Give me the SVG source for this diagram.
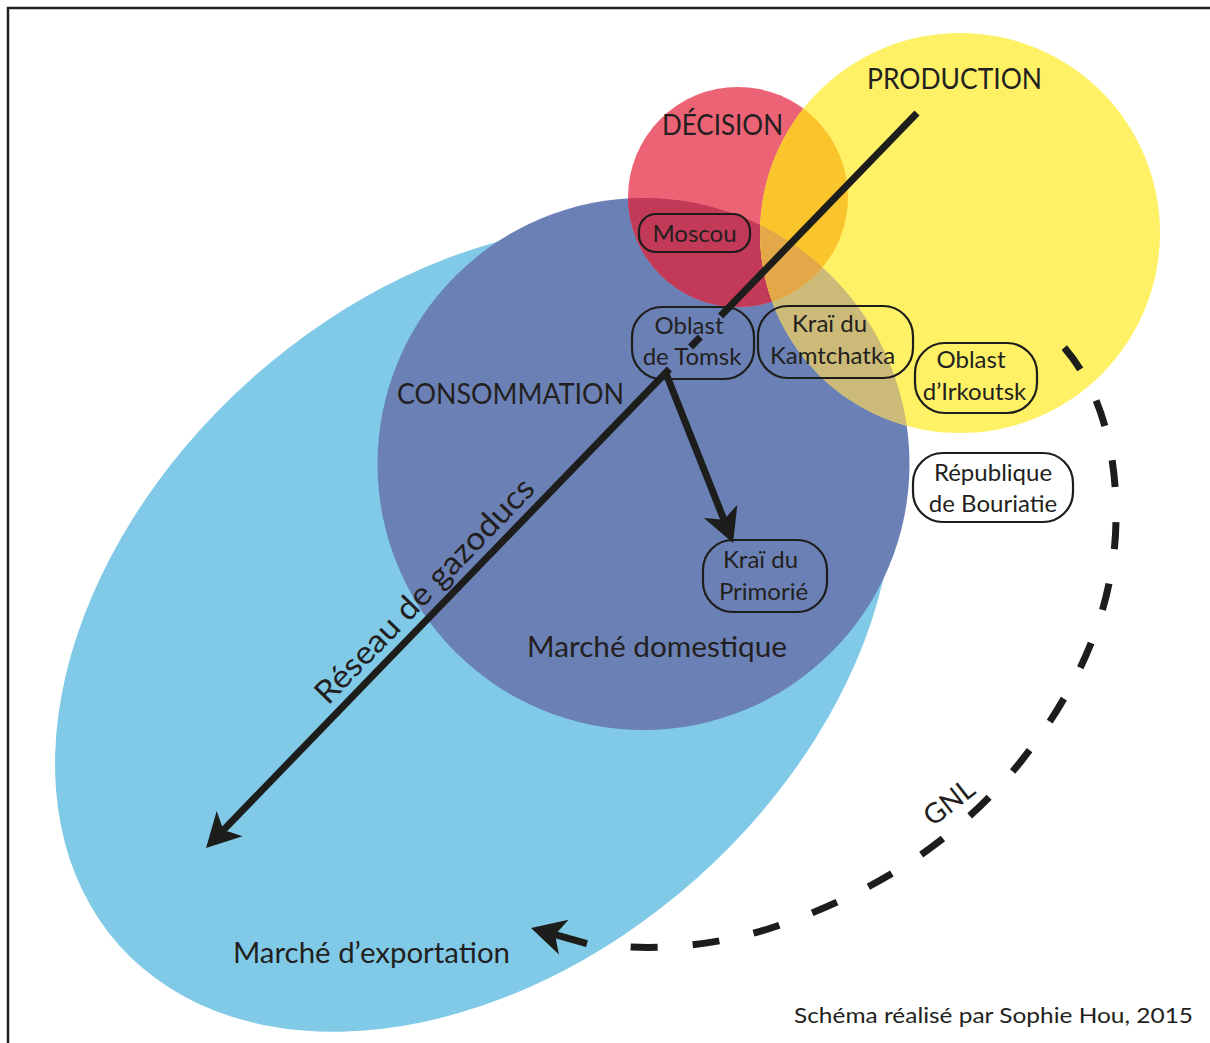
<svg xmlns="http://www.w3.org/2000/svg" width="1210" height="1043" viewBox="0 0 1210 1043">
<style>
.t{font-family:Lato,"Open Sans","Liberation Sans",sans-serif;fill:#231f20}
.zl{font-size:29px}
.nl{font-size:24px;text-anchor:middle}
.box{fill:none;stroke:#1d1d1b;stroke-width:2.2}
.pipe{fill:none;stroke:#1d1d1b;stroke-width:7}
</style>
<defs>
<clipPath id="clipDB"><circle cx="643.5" cy="464" r="266"/></clipPath>
<clipPath id="clipR"><circle cx="738" cy="197" r="110"/></clipPath>
<marker id="ah" viewBox="-12 -20 40 40" refX="0" refY="0" markerWidth="40" markerHeight="40" orient="auto" markerUnits="userSpaceOnUse">
<path d="M25,0 L-9,-18 Q-3,-6 0,0 Q-3,6 -9,18 Z" fill="#1d1d1b"/>
</marker>
</defs>
<rect width="1210" height="1043" fill="#ffffff"/>
<path d="M8,1043 L8,8 L1210,8" fill="none" stroke="#222" stroke-width="2.5"/>
<g id="zones">
<ellipse id="export-zone" cx="474.2" cy="628.5" rx="475.8" ry="334.6" transform="rotate(-41.72 474.2 628.5)" fill="#80cae8"/>
<circle id="conso-zone" cx="643.5" cy="464" r="266" fill="#6b81b5"/>
<circle id="decision-zone" cx="738" cy="197" r="110" fill="#ec6375"/>
<circle cx="738" cy="197" r="110" fill="#c33a58" clip-path="url(#clipDB)"/>
<circle id="production-zone" cx="960" cy="233" r="200" fill="#fff166"/>
<circle cx="960" cy="233" r="200" fill="#ccba78" clip-path="url(#clipDB)"/>
<circle cx="960" cy="233" r="200" fill="#fac42d" clip-path="url(#clipR)"/>
<g clip-path="url(#clipDB)"><circle cx="960" cy="233" r="200" fill="#e3a948" clip-path="url(#clipR)"/></g>
</g>
<g id="zone-labels">
<text class="t zl" x="867" y="89" textLength="175" lengthAdjust="spacingAndGlyphs">PRODUCTION</text>
<text class="t zl" x="662" y="135" textLength="121" lengthAdjust="spacingAndGlyphs">DÉCISION</text>
<text class="t zl" x="397" y="404" textLength="227" lengthAdjust="spacingAndGlyphs">CONSOMMATION</text>
<text class="t zl" x="527" y="657" textLength="260" lengthAdjust="spacingAndGlyphs">Marché domestique</text>
<text class="t zl" x="233" y="963" textLength="277" lengthAdjust="spacingAndGlyphs">Marché d’exportation</text>
<text class="t" x="794" y="1023" font-size="22" textLength="399" lengthAdjust="spacingAndGlyphs">Schéma réalisé par Sophie Hou, 2015</text>
</g>
<g id="connectors">
<g id="pipeline">
<line class="pipe" x1="917" y1="113" x2="720.6" y2="316"/>
<line class="pipe" x1="700.3" y1="337" x2="690.6" y2="347"/>
<line class="pipe" x1="669.4" y1="369" x2="223.4" y2="830.1" marker-end="url(#ah)"/>
<text class="t" x="328" y="706" font-size="32" transform="rotate(-45.95 328 706)" textLength="300" lengthAdjust="spacingAndGlyphs">Réseau de gazoducs</text>
</g>
<line id="tomsk-primorie" class="pipe" x1="665" y1="371" x2="723.9" y2="519.7" marker-end="url(#ah)"/>
<g id="gnl">
<path d="M1062,345 C1098,385 1117,445 1116,520 C1115,600 1085,680 1022,760 C960,838 880,890 780,925 C720,946 660,950 618,946" fill="none" stroke="#1d1d1b" stroke-width="7" stroke-dasharray="27 35" stroke-dashoffset="58.5"/>
<line class="pipe" x1="587" y1="943.6" x2="555.1" y2="934.7" marker-end="url(#ah)"/>
<text class="t" x="955" y="810" font-size="28" text-anchor="middle" transform="rotate(-38 955 810)">GNL</text>
</g>
</g>
<g id="node-moscou">
<rect class="box" x="639" y="214" width="111" height="38" rx="17"/>
<text class="t nl" x="694.5" y="242">Moscou</text>
</g>
<g id="node-tomsk">
<rect class="box" x="632" y="307" width="122" height="72" rx="30"/>
<text class="t nl" x="689" y="334">Oblast</text>
<text class="t nl" x="692" y="365">de Tomsk</text>
</g>
<g id="node-kamtchatka">
<rect class="box" x="758" y="306" width="155" height="72" rx="30"/>
<text class="t nl" x="829.5" y="332">Kraï du</text>
<text class="t nl" x="832.5" y="364">Kamtchatka</text>
</g>
<g id="node-irkoutsk">
<rect class="box" x="915" y="343" width="122" height="70" rx="30"/>
<text class="t nl" x="971" y="368">Oblast</text>
<text class="t nl" x="974.5" y="400">d’Irkoutsk</text>
</g>
<g id="node-bouriatie">
<rect class="box" x="913" y="453" width="160" height="69" rx="30"/>
<text class="t nl" x="993" y="481">République</text>
<text class="t nl" x="993" y="512">de Bouriatie</text>
</g>
<g id="node-primorie">
<rect class="box" x="703" y="540" width="124" height="72" rx="30"/>
<text class="t nl" x="760.5" y="568">Kraï du</text>
<text class="t nl" x="763.5" y="600">Primorié</text>
</g>
</svg>
